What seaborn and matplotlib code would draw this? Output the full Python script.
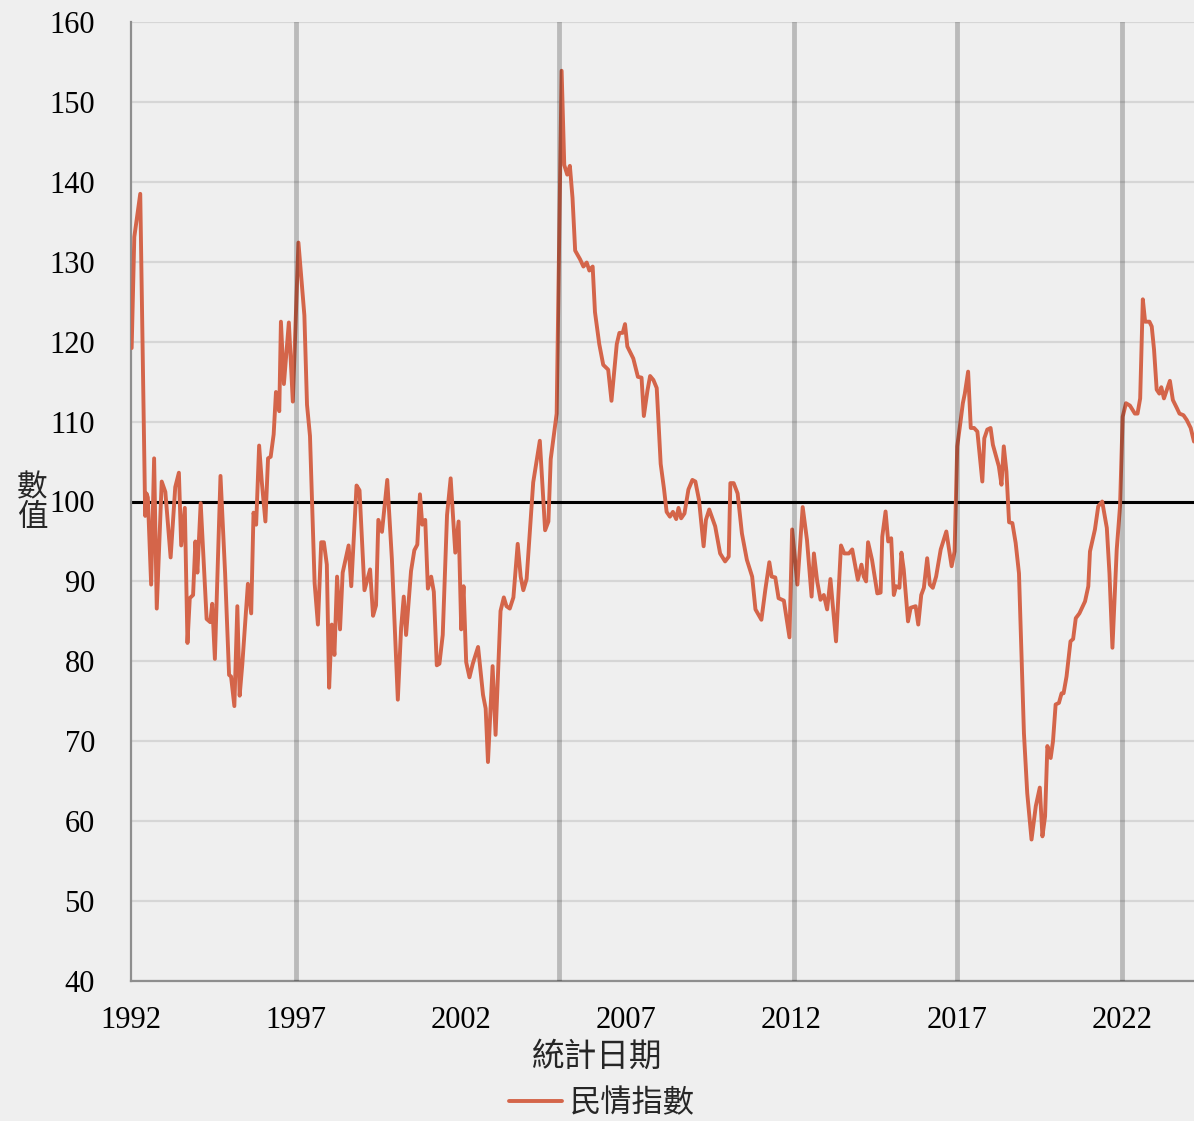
import matplotlib
matplotlib.use('Agg')
import matplotlib.pyplot as plt
import seaborn as sns
import pandas as pd
from matplotlib.lines import Line2D

dates = [
    1992.02, 1992.10, 1992.28, 1992.43, 1992.47, 1992.51, 1992.61, 1992.70, 1992.78, 1992.93,
    1993.04, 1993.20, 1993.34, 1993.45, 1993.52, 1993.63, 1993.71, 1993.78, 1993.88, 1993.95,
    1994.01, 1994.11, 1994.29, 1994.40, 1994.46, 1994.54, 1994.71, 1994.85, 1994.97, 1995.03,
    1995.13, 1995.22, 1995.29, 1995.37, 1995.54, 1995.64, 1995.71, 1995.79, 1995.88, 1995.96,
    1996.07, 1996.15, 1996.23, 1996.32, 1996.39, 1996.49, 1996.54, 1996.63, 1996.78, 1996.90,
    1997.07, 1997.25, 1997.33, 1997.42, 1997.56, 1997.66, 1997.76, 1997.84, 1997.93, 1998.00,
    1998.08, 1998.16, 1998.24, 1998.33, 1998.41, 1998.59, 1998.67, 1998.83, 1998.92, 1999.07,
    1999.24, 1999.33, 1999.42, 1999.49, 1999.60, 1999.76, 1999.90, 2000.08, 2000.18, 2000.26,
    2000.33, 2000.48, 2000.58, 2000.67, 2000.75, 2000.82, 2000.91, 2000.99, 2001.09, 2001.17,
    2001.26, 2001.34, 2001.44, 2001.57, 2001.68, 2001.82, 2001.92, 2002.00, 2002.07, 2002.15,
    2002.25, 2002.35, 2002.51, 2002.66, 2002.74, 2002.81, 2002.95, 2003.04, 2003.19, 2003.29,
    2003.37, 2003.47, 2003.58, 2003.71, 2003.80, 2003.88, 2003.98, 2004.18, 2004.38, 2004.54,
    2004.64, 2004.71, 2004.89, 2005.04, 2005.12, 2005.21, 2005.29, 2005.37, 2005.45, 2005.60,
    2005.70, 2005.80, 2005.88, 2005.98, 2006.05, 2006.18, 2006.30, 2006.45, 2006.55, 2006.71,
    2006.79, 2006.89, 2006.96, 2007.03, 2007.21, 2007.35, 2007.46, 2007.53, 2007.64, 2007.72,
    2007.82, 2007.92, 2008.04, 2008.14, 2008.22, 2008.32, 2008.41, 2008.51, 2008.58, 2008.66,
    2008.76, 2008.88, 2009.00, 2009.09, 2009.20, 2009.34, 2009.41, 2009.51, 2009.69, 2009.84,
    2009.99, 2010.10, 2010.15, 2010.25, 2010.37, 2010.50, 2010.65, 2010.81, 2010.91, 2011.09,
    2011.21, 2011.33, 2011.40, 2011.51, 2011.61, 2011.77, 2011.94, 2012.02, 2012.18, 2012.34,
    2012.47, 2012.61, 2012.68, 2012.78, 2012.88, 2012.98, 2013.08, 2013.18, 2013.35, 2013.50,
    2013.60, 2013.74, 2013.84, 2014.01, 2014.12, 2014.19, 2014.26, 2014.32, 2014.44, 2014.60,
    2014.70, 2014.75, 2014.85, 2014.93, 2015.02, 2015.10, 2015.17, 2015.27, 2015.33, 2015.40,
    2015.53, 2015.61, 2015.76, 2015.84, 2015.93, 2016.01, 2016.11, 2016.19, 2016.28, 2016.38,
    2016.52, 2016.69, 2016.85, 2016.94, 2017.02, 2017.12, 2017.19, 2017.25, 2017.35, 2017.43,
    2017.53, 2017.63, 2017.78, 2017.84, 2017.93, 2018.03, 2018.10, 2018.28, 2018.36, 2018.43,
    2018.51, 2018.59, 2018.69, 2018.79, 2018.89, 2018.97, 2019.04, 2019.14, 2019.27, 2019.40,
    2019.52, 2019.60, 2019.68, 2019.75, 2019.85, 2019.92, 2020.00, 2020.10, 2020.18, 2020.24,
    2020.33, 2020.45, 2020.53, 2020.61, 2020.72, 2020.89, 2020.99, 2021.04, 2021.19, 2021.29,
    2021.41, 2021.55, 2021.63, 2021.72, 2021.85, 2021.95, 2022.03, 2022.13, 2022.25, 2022.40,
    2022.48, 2022.56, 2022.64, 2022.71, 2022.84, 2022.91, 2022.98, 2023.06, 2023.14, 2023.20,
    2023.28, 2023.46, 2023.55, 2023.67, 2023.75, 2023.87, 2023.97, 2024.09, 2024.19,
]

values = [
    119.2, 133.1, 138.5, 98.2, 101.0, 100.5, 89.6, 105.4, 86.6, 102.5,
    101.2, 93.0, 101.8, 103.6, 94.5, 99.2, 82.3, 87.9, 88.3, 95.0,
    91.1, 99.8, 85.3, 84.9, 87.2, 80.3, 103.2, 91.0, 78.3, 78.1,
    74.4, 86.9, 75.7, 79.6, 89.7, 86.0, 98.6, 97.1, 107.0, 102.5,
    97.5, 105.4, 105.6, 108.4, 113.7, 111.3, 122.5, 114.7, 122.4, 112.5,
    132.4, 123.3, 112.1, 108.2, 89.8, 84.6, 94.9, 94.9, 92.1, 76.7,
    84.6, 80.8, 90.6, 84.0, 91.1, 94.5, 89.4, 102.0, 101.4, 88.9,
    91.5, 85.7, 87.0, 97.7, 96.2, 102.7, 92.8, 75.2, 84.2, 88.1,
    83.3, 91.3, 93.9, 94.6, 100.9, 97.1, 97.7, 89.1, 90.6, 88.7,
    79.5, 79.7, 83.3, 98.3, 102.9, 93.6, 97.5, 84.0, 89.4, 79.9,
    78.0, 79.7, 81.8, 75.8, 74.1, 67.4, 79.4, 70.8, 86.3, 88.0,
    86.9, 86.6, 88.0, 94.7, 90.6, 88.9, 90.3, 102.4, 107.6, 96.4,
    97.5, 105.3, 111.0, 153.9, 142.1, 140.9, 142.0, 138.0, 131.4, 130.3,
    129.4, 129.9, 128.9, 129.4, 123.7, 119.7, 117.1, 116.5, 112.6, 119.7,
    121.1, 121.1, 122.2, 119.4, 117.9, 115.6, 115.5, 110.7, 113.9, 115.7,
    115.2, 114.2, 104.7, 101.6, 98.7, 98.1, 98.7, 97.8, 99.2, 97.9,
    98.5, 101.5, 102.7, 102.5, 100.2, 94.4, 97.7, 99.0, 96.9, 93.5,
    92.5, 93.1, 102.3, 102.3, 101.0, 96.0, 92.7, 90.6, 86.5, 85.2,
    89.0, 92.4, 90.6, 90.5, 87.9, 87.6, 83.0, 96.5, 89.6, 99.3,
    95.2, 88.1, 93.5, 90.0, 87.7, 88.3, 86.5, 90.3, 82.5, 94.5,
    93.5, 93.5, 94.0, 90.2, 92.1, 90.6, 90.0, 94.9, 92.7, 88.5,
    88.6, 95.6, 98.75, 95.0, 95.4, 88.3, 89.4, 89.2, 93.6, 91.5,
    85.0, 86.7, 86.9, 84.6, 88.3, 89.2, 92.9, 89.6, 89.2, 90.6,
    94.0, 96.25, 91.9, 93.75, 106.9, 110.0, 112.3, 113.5, 116.25, 109.2,
    109.2, 108.75, 102.5, 107.9, 109.0, 109.2, 107.1, 104.4, 102.1, 106.9,
    103.75, 97.4, 97.3, 94.8, 91.0, 80.2, 71.0, 63.5, 57.7, 61.9,
    64.2, 58.1, 60.6, 69.4, 67.9, 70.0, 74.6, 74.8, 76.0, 76.0,
    78.1, 82.5, 82.8, 85.4, 86.0, 87.5, 89.4, 93.75, 96.5, 99.4,
    100.0, 96.7, 91.0, 81.7, 94.0, 99.4, 110.6, 112.3, 112.0, 111.0,
    111.0, 112.9, 125.3, 122.5, 122.5, 121.9, 119.0, 114.0, 113.5, 114.3,
    112.9, 115.1, 112.7, 111.7, 111.0, 110.8, 110.2, 109.2, 107.5,
]

term_lines = [1997.0, 2004.96, 2012.07, 2017.0, 2022.0]
reference_level = 100
x_ticks = [1992, 1997, 2002, 2007, 2012, 2017, 2022]
y_ticks = list(range(40, 161, 10))
series_name = '民情指數'
x_title = '統計日期'
y_title = '數\n值'

sns.set_theme(style='white')
plt.rcParams['font.family'] = ['Liberation Serif', 'Noto Sans CJK TC', 'DejaVu Sans']
cjk = ['Noto Sans CJK TC', 'DejaVu Sans']

bg = '#efefef'
line_color = '#d4654a'
axis_gray = '#8e8e8e'

fig = plt.figure(figsize=(11.94, 11.21), dpi=100, facecolor=bg)
ax = fig.add_axes([131 / 1194, 1 - 981 / 1121, 1063 / 1194, 959 / 1121])
ax.set_facecolor(bg)

ax.set_xlim(1992, 2024.19)
ax.set_ylim(40, 160)
ax.set_xticks(x_ticks)
ax.set_xticklabels([str(t) for t in x_ticks])
ax.set_yticks(y_ticks)
ax.set_yticklabels([str(t) for t in y_ticks])

ax.grid(axis='y', color='#d6d6d6', lw=1.6, zorder=0)
ax.set_axisbelow(True)
ax.axhline(reference_level, color='black', lw=2.2, zorder=2)

df = pd.DataFrame({'date': dates, 'value': values})
sns.lineplot(data=df, x='date', y='value', ax=ax, color=line_color, lw=2.8,
             legend=False, zorder=3)

for t in term_lines:
    ax.axvline(t, color='black', alpha=0.22, lw=3.5, zorder=4)

for s in ['top', 'right']:
    ax.spines[s].set_visible(False)
for s in ['left', 'bottom']:
    ax.spines[s].set_color(axis_gray)
    ax.spines[s].set_linewidth(1.6)

ax.tick_params(axis='both', direction='out', length=8, width=1.6, color=axis_gray,
               labelsize=22, labelcolor='black')
ax.tick_params(axis='y', pad=18)
ax.tick_params(axis='x', pad=10)

ax.set_xlabel(x_title, fontsize=23.5, family=cjk, weight='medium', va='center', ha='center')
ax.xaxis.set_label_coords((597 - 131) / 1063, -(1057 - 981) / 959)
ax.set_ylabel(y_title, fontsize=22, family=cjk, rotation=0, va='center', ha='center',
              linespacing=0.95)
ax.yaxis.set_label_coords(-(131 - 32) / 1063, (981 - 503) / 959)

handle = Line2D([], [], color=line_color, lw=2.8)
fig.legend([handle], [series_name], loc='center',
           bbox_to_anchor=(602 / 1194, 1 - 1103 / 1121), frameon=False,
           prop={'family': cjk, 'size': 22.5}, handlelength=1.7, handletextpad=0.25)

fig.savefig('out.png', dpi=100, facecolor=bg)
